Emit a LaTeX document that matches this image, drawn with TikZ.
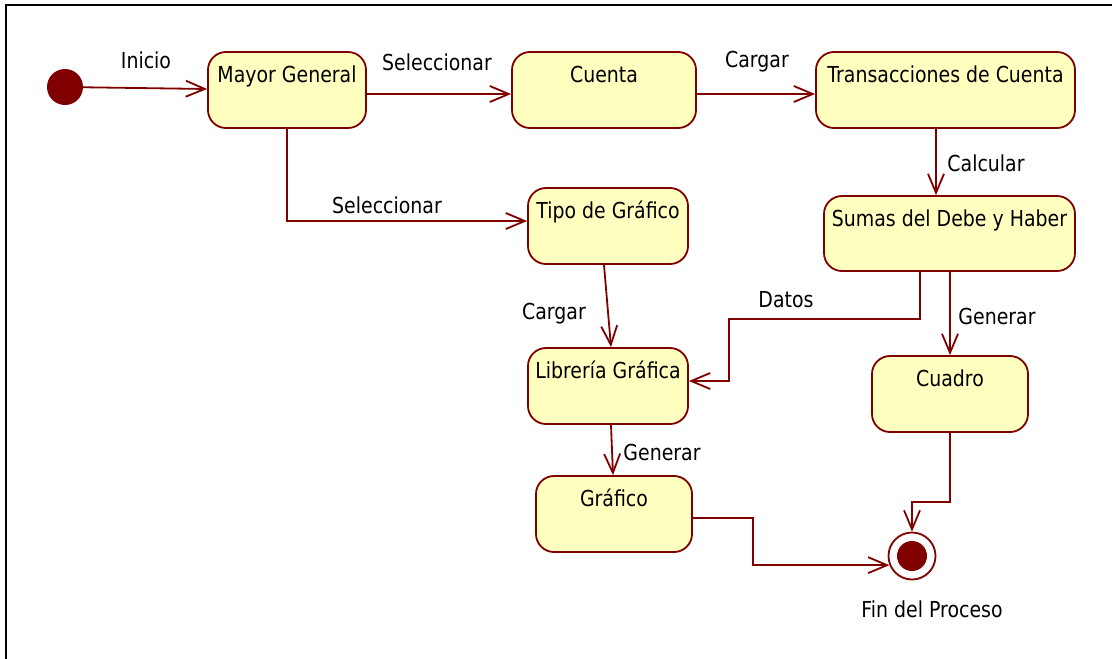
\documentclass[tikz,border=0pt]{standalone}
\usepackage{fontspec}
\setmainfont{DejaVu Sans}[FakeStretch=0.86]
\usetikzlibrary{arrows.meta}
\definecolor{dkred}{HTML}{800000}
\definecolor{pale}{HTML}{FFFFC0}
\begin{document}
\begin{tikzpicture}[x=1pt,y=-1pt,
  every node/.style={font=\fontsize{22}{26}\selectfont},
  state/.style={draw=dkred, fill=pale, line width=1.8pt, rounded corners=18pt,
     rectangle, inner sep=0pt, text height=30pt, text depth=46pt, align=center},
  trans/.style={draw=dkred, line width=1.8pt, -{Straight Barb[length=19pt,width=16pt]}},
  lbl/.style={inner sep=0pt}
]
\useasboundingbox (0,0) rectangle (1112,659);
\draw[line width=2pt] (1112,5) -- (6,5) -- (6,659);

\node[circle, fill=dkred, minimum size=36pt, inner sep=0pt] (init) at (65,87) {};
\node[state, minimum width=158pt] (mg) at (287,90) {Mayor General};
\node[state, minimum width=184pt] (cta) at (604,90) {Cuenta};
\node[state, minimum width=259pt] (tra) at (945.5,90) {Transacciones de Cuenta};
\node[state, minimum width=251pt, text depth=45pt] (sum) at (949.5,233.5) {Sumas del Debe y Haber};
\node[state, minimum width=160pt] (tipo) at (608,226) {Tipo de Gráfico};
\node[state, minimum width=160pt] (lib) at (608,386) {Librería Gráfica};
\node[state, minimum width=156pt] (cua) at (950,394) {Cuadro};
\node[state, minimum width=156pt] (graf) at (614,514) {Gráfico};

\node[circle, draw=dkred, fill=white, line width=1.8pt, minimum size=47pt, inner sep=0pt] (fin) at (912,556) {};
\node[circle, fill=dkred, minimum size=30pt, inner sep=0pt] (finIn) at (fin) {};
\node[lbl] (finLbl) at (932,609) {Fin del Proceso};

\draw[trans] (init) -- ([yshift=1pt]mg.west);
\draw[trans] ([yshift=-4pt]mg.east) -- ([yshift=-4pt]cta.west);
\draw[trans] ([yshift=-4pt]cta.east) -- ([yshift=-4pt]tra.west);
\draw[trans] ([xshift=-9.5pt]tra.south) -- ([xshift=-13.5pt]sum.north);
\draw[trans] (mg.south) |- ([yshift=5pt]tipo.west);
\draw[trans] ([xshift=-4pt]tipo.south) -- ([xshift=3pt]lib.north);
\draw[trans] ([xshift=-29.5pt]sum.south) -- ++(0,47) -- ++(-191,0) |- ([yshift=5pt]lib.east);
\draw[trans] (sum.south -| cua.north) -- (cua.north);
\draw[trans] ([xshift=3pt]lib.south) -- ([xshift=-1pt]graf.north);
\draw[trans] (cua.south) -- ++(0,69) -| (fin.north);
\draw[trans] ([yshift=-4pt]graf.east) -- ++(60,0) |- (fin.202);

\node[lbl] (l1) at (146,60) {Inicio};
\node[lbl] (l2) at (437,62) {Seleccionar};
\node[lbl] (l3) at (757,62) {Cargar};
\node[lbl] (l4) at (986,163) {Calcular};
\node[lbl] (l5) at (387,205) {Seleccionar};
\node[lbl] (l6) at (554,314) {Cargar};
\node[lbl] (l7) at (786,300) {Datos};
\node[lbl] (l8) at (997,316) {Generar};
\node[lbl] (l9) at (662,452) {Generar};
\end{tikzpicture}
\end{document}
